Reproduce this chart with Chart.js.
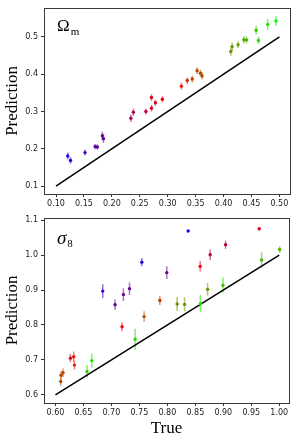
<!DOCTYPE html>
<html>
<head>
<meta charset="utf-8">
<script src="https://cdn.jsdelivr.net/npm/chart.js@4/dist/chart.umd.min.js"></script>
<style>
  html, body { margin: 0; padding: 0; background: #fff; }
  #wrap { position: relative; width: 299px; height: 440px; }
  #wrap canvas { position: absolute; left: 0; }
</style>
</head>
<body>
<div id="wrap">
  <canvas id="omChart" style="top:0"></canvas>
  <canvas id="s8Chart" style="top:210px"></canvas>
</div>
<script>
// Omega_m panel
const omTrue = [0.121, 0.126, 0.152, 0.170, 0.174, 0.183, 0.185, 0.234, 0.2385, 0.261, 0.271, 0.271, 0.278, 0.2905,
    0.3245, 0.335, 0.344, 0.3527, 0.3587, 0.3617, 0.413, 0.4154, 0.426, 0.4363, 0.441, 0.4584, 0.4626, 0.479, 0.4937];
const omPred = [0.181, 0.169, 0.190, 0.206, 0.205, 0.235, 0.227, 0.282, 0.298, 0.300, 0.3375, 0.309, 0.3235, 0.333,
    0.368, 0.383, 0.387, 0.4095, 0.4025, 0.3955, 0.4607, 0.474, 0.479, 0.4923, 0.492, 0.5177, 0.4905, 0.5336, 0.5425];
const omErr = [0.009, 0.009, 0.008, 0.007, 0.007, 0.011, 0.011, 0.010, 0.010, 0.008, 0.009, 0.009, 0.008, 0.008,
    0.009, 0.009, 0.009, 0.009, 0.009, 0.009, 0.011, 0.011, 0.009, 0.010, 0.010, 0.012, 0.010, 0.015, 0.013];
const omXTicks = [0.10, 0.15, 0.20, 0.25, 0.30, 0.35, 0.40, 0.45, 0.50];
const omYTicks = [0.1, 0.2, 0.3, 0.4, 0.5];
const omLine = [0.1, 0.5];

// sigma_8 panel (colour = Omega_m of the same simulation)
const s8True = [0.6101, 0.6095, 0.6136, 0.6268, 0.6327, 0.634, 0.6565, 0.665, 0.6846, 0.7066, 0.7191, 0.7215, 0.7324,
    0.7424, 0.7544, 0.7585, 0.7866, 0.799, 0.8175, 0.8308, 0.8372, 0.8587, 0.859, 0.872, 0.8766, 0.8993, 0.9041,
    0.9642, 0.9685, 1.0007];
const s8Pred = [0.656, 0.638, 0.663, 0.705, 0.709, 0.685, 0.667, 0.698, 0.897, 0.858, 0.795, 0.887, 0.904,
    0.759, 0.980, 0.824, 0.870, 0.950, 0.860, 0.859, 1.069, 0.968, 0.861, 0.902, 1.001, 0.914, 1.030,
    1.0755, 0.986, 1.016];
const s8Err = [0.012, 0.012, 0.012, 0.012, 0.015, 0.012, 0.018, 0.020, 0.020, 0.015, 0.013, 0.018, 0.018,
    0.030, 0.012, 0.015, 0.013, 0.018, 0.020, 0.020, 0.002, 0.015, 0.025, 0.018, 0.015, 0.022, 0.012,
    0.004, 0.022, 0.010];
const s8Om = [0.355, 0.36, 0.35, 0.27, 0.32, 0.33, 0.46, 0.48, 0.15, 0.18, 0.29, 0.18, 0.18,
    0.47, 0.13, 0.36, 0.34, 0.18, 0.41, 0.42, 0.12, 0.29, 0.48, 0.415, 0.24, 0.46, 0.24,
    0.27, 0.44, 0.44];
const s8XTicks = [0.60, 0.65, 0.70, 0.75, 0.80, 0.85, 0.90, 0.95, 1.00];
const s8YTicks = [0.6, 0.7, 0.8, 0.9, 1.0, 1.1];
const s8Line = [0.6, 1.0];

// matplotlib "brg" colormap, Omega_m from 0.1 to 0.5
function brg(om, alpha) {
    let t = Math.min(1, Math.max(0, (om - 0.1) / 0.4));
    let r, g, b;
    if(t < 0.5) {
        r = 2 * t; g = 0; b = 1 - 2 * t;
    } else {
        r = 2 - 2 * t; g = 2 * t - 1; b = 0;
    }
    return `rgba(${Math.round(r * 255)},${Math.round(g * 255)},${Math.round(b * 255)},${alpha})`;
}

const errorBars = {
    id: 'errorBars',
    beforeDatasetsDraw(chart) {
        const ctx = chart.ctx;
        const ds = chart.data.datasets[0];
        const ys = chart.scales.y, xs = chart.scales.x;
        ctx.save();
        ctx.lineWidth = 1.5;
        ds.data.forEach((p, i) => {
            const x = xs.getPixelForValue(p.x);
            ctx.strokeStyle = ds.errColors[i];
            ctx.beginPath();
            ctx.moveTo(x, ys.getPixelForValue(p.y - p.e));
            ctx.lineTo(x, ys.getPixelForValue(p.y + p.e));
            ctx.stroke();
        });
        ctx.restore();
    }
};

const frame = {
    id: 'frame',
    afterDraw(chart) {
        const a = chart.chartArea;
        const ctx = chart.ctx;
        ctx.save();
        ctx.strokeStyle = '#3a3a3a';
        ctx.lineWidth = 1;
        ctx.strokeRect(Math.round(a.left) + 0.5, Math.round(a.top) + 0.5,
            Math.round(a.right - a.left), Math.round(a.bottom - a.top));
        const lab = chart.options.plugins.frame;
        ctx.fillStyle = '#000';
        ctx.textBaseline = 'alphabetic';
        ctx.font = lab.mainFont;
        ctx.fillText(lab.main, a.left + 13, a.top + lab.dy);
        const w = ctx.measureText(lab.main).width;
        ctx.font = '11px "Liberation Serif", serif';
        ctx.fillText(lab.sub, a.left + 14 + w, a.top + lab.dy + lab.subDy);
        ctx.restore();
    }
};

function makeChart(id, w, h, cfg) {
    const canvas = document.getElementById(id);
    canvas.width = w;
    canvas.height = h;
    canvas.style.width = w + 'px';
    canvas.style.height = h + 'px';

    const points = cfg.xs.map((v, i) => ({ x: v, y: cfg.ys[i], e: cfg.errs[i] }));

    return new Chart(canvas, {
        type: 'scatter',
        data: {
            datasets: [{
                data: points,
                pointRadius: 1.7,
                pointHoverRadius: 1.7,
                pointBorderWidth: 0,
                pointBackgroundColor: cfg.colorOm.map(o => brg(o, 1)),
                errColors: cfg.colorOm.map(o => brg(o, 0.55)),
            }, {
                data: cfg.line.map(v => ({ x: v, y: v })),
                showLine: true,
                borderColor: '#000',
                borderWidth: 1.5,
                pointRadius: 0,
            }]
        },
        options: {
            responsive: false,
            animation: false,
            devicePixelRatio: 1,
            layout: { padding: cfg.padding },
            plugins: {
                legend: { display: false },
                tooltip: { enabled: false },
                frame: { main: cfg.label, sub: cfg.sub, mainFont: cfg.labelFont, dy: cfg.labelDy, subDy: cfg.subDy },
            },
            scales: {
                x: {
                    type: 'linear',
                    min: cfg.xMin,
                    max: cfg.xMax,
                    afterBuildTicks: s => { s.ticks = cfg.xTicks.map(v => ({ value: v })); },
                    afterFit: s => { s.height = cfg.xAxisH; },
                    grid: { drawOnChartArea: false, drawTicks: true, tickLength: 3, color: '#333' },
                    border: { display: false },
                    ticks: {
                        color: '#222',
                        padding: 2,
                        maxRotation: 0,
                        font: { family: '"DejaVu Sans", sans-serif', size: 8 },
                        callback: v => v.toFixed(2),
                    },
                    title: {
                        display: cfg.xTitle !== '',
                        text: cfg.xTitle,
                        color: '#000',
                        padding: { top: 0, bottom: 1 },
                        font: { family: '"Liberation Serif", serif', size: 17 },
                    },
                },
                y: {
                    type: 'linear',
                    min: cfg.yMin,
                    max: cfg.yMax,
                    afterBuildTicks: s => { s.ticks = cfg.yTicks.map(v => ({ value: v })); },
                    afterFit: s => { s.width = 44; },
                    grid: { drawOnChartArea: false, drawTicks: true, tickLength: 3, color: '#333' },
                    border: { display: false },
                    ticks: {
                        color: '#222',
                        padding: 3,
                        font: { family: '"DejaVu Sans", sans-serif', size: 8 },
                        callback: v => v.toFixed(1),
                    },
                    title: {
                        display: true,
                        text: 'Prediction',
                        color: '#000',
                        padding: { top: 2, bottom: 0 },
                        font: { family: '"Liberation Serif", serif', size: 17 },
                    },
                }
            }
        },
        plugins: [errorBars, frame]
    });
}

makeChart('omChart', 299, 210, {
    xs: omTrue, ys: omPred, errs: omErr, colorOm: omTrue, line: omLine,
    xTicks: omXTicks, yTicks: omYTicks,
    xMin: 0.0785, xMax: 0.519, yMin: 0.079, yMax: 0.578,
    xAxisH: 16, xTitle: '',
    padding: { top: 5, right: 9, left: 0, bottom: 0 },
    label: 'Ω', sub: 'm', labelFont: '17px "Liberation Serif", serif', labelDy: 23, subDy: 4,
});

makeChart('s8Chart', 299, 230, {
    xs: s8True, ys: s8Pred, errs: s8Err, colorOm: s8Om, line: s8Line,
    xTicks: s8XTicks, yTicks: s8YTicks,
    xMin: 0.5796, xMax: 1.0174, yMin: 0.5765, yMax: 1.107,
    xAxisH: 37, xTitle: 'True',
    padding: { top: 3, right: 10, left: 0, bottom: 0 },
    label: 'σ', sub: '8', labelFont: 'italic 19px "Liberation Serif", serif', labelDy: 26, subDy: 3,
});
</script>
</body>
</html>
